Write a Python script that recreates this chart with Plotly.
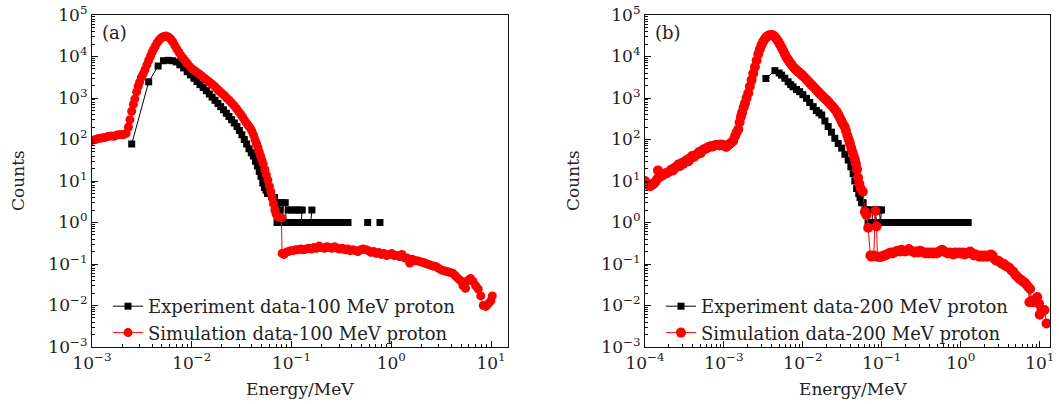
import plotly.graph_objects as go

# ---------------- Panel (a): 100 MeV proton ----------------
exp_a_E = [0.0025, 0.0037, 0.0046, 0.0052, 0.0058, 0.0064, 0.0070, 0.0076, 0.0083, 0.0090,
           0.0097, 0.0105, 0.0113, 0.0121, 0.0130, 0.0140, 0.0150, 0.0160, 0.0171, 0.0183,
           0.0195, 0.0208, 0.0222, 0.0236, 0.0251, 0.0267, 0.0284, 0.0300, 0.0318, 0.0336,
           0.0355, 0.0375, 0.0395, 0.0415, 0.0435, 0.0455, 0.0475, 0.0495, 0.0515, 0.0535,
           0.0555, 0.0575, 0.0600, 0.0625, 0.0650, 0.0675, 0.0700, 0.0716, 0.0735, 0.0755,
           0.0770, 0.0790, 0.0805, 0.0825, 0.0845, 0.0865, 0.0885, 0.0905, 0.0925, 0.0945,
           0.0965, 0.0985, 0.1005, 0.1025, 0.1045, 0.1065, 0.1090, 0.1110, 0.1130, 0.1160,
           0.1190, 0.1220, 0.1250, 0.1280, 0.1310, 0.1350, 0.1400, 0.1450, 0.1500, 0.1560,
           0.1600, 0.1640, 0.1680, 0.1740, 0.1810, 0.1880, 0.1950, 0.2030, 0.2110, 0.2200,
           0.2290, 0.2380, 0.2480, 0.2580, 0.2690, 0.2800, 0.2920, 0.3040, 0.3170, 0.3300,
           0.3440, 0.3580, 0.3680, 0.4500, 0.5800, 0.6800, 0.7700]
exp_a_C = [78, 2450, 5900, 7900, 8100, 7900, 7400, 6300, 5300, 4300,
           3600, 3000, 2500, 2100, 1800, 1500, 1250, 1050, 880, 740,
           620, 520, 430, 360, 300, 250, 205, 165, 130, 100,
           78, 60, 48, 40, 30, 23, 17, 13, 9, 7,
           6, 5, 5, 5, 4, 4, 3, 1, None, 3,
           2, None, 1, 3, None, 3, 1, None, 2, None,
           1, None, 2, None, 1, None, 2, None, 1, None,
           2, None, 1, 2, None, 1, None, 1, None, 1,
           2, None, 1, None, 1, None, 1, None, 1, None,
           1, None, 1, None, 1, None, 1, None, 1, None,
           1, None, 1, None, 1, None, 1]

sim_a_E = [0.00100, 0.00108, 0.00116, 0.00125, 0.00134, 0.00144, 0.00155, 0.00166, 0.00178, 0.00191,
           0.00205, 0.00220, 0.00232, 0.00240, 0.00250, 0.00260, 0.00269, 0.00280, 0.00290, 0.00300,
           0.00312, 0.00325, 0.00340, 0.00355, 0.00370, 0.00385, 0.00400, 0.00415, 0.00430, 0.00447,
           0.00465, 0.00485, 0.00505, 0.00527, 0.00550, 0.00575, 0.00600, 0.00625, 0.00650, 0.00680,
           0.00710, 0.00745, 0.00780, 0.00820, 0.00860, 0.00900, 0.00950, 0.01000, 0.01060, 0.01120,
           0.01190, 0.01260, 0.01340, 0.01420, 0.01510, 0.01600, 0.01700, 0.01800, 0.01900, 0.02000,
           0.02120, 0.02240, 0.02370, 0.02500, 0.02650, 0.02800, 0.02950, 0.03100, 0.03250, 0.03400,
           0.03550, 0.03700, 0.03850, 0.04000, 0.04150, 0.04300, 0.04450, 0.04600, 0.04750, 0.04900,
           0.05050, 0.05200, 0.05400, 0.05600, 0.05800, 0.06000, 0.06200, 0.06400, 0.06600, 0.06800,
           0.07000, 0.07300, 0.07900, 0.08050, 0.0840, 0.0880, 0.0930, 0.0980, 0.1040, 0.1100,
           0.1170, 0.1240, 0.1320, 0.1400, 0.1490, 0.1580, 0.1680, 0.1780, 0.1890, 0.2000,
           0.2130, 0.2260, 0.2400, 0.2550, 0.2700, 0.2870, 0.3050, 0.3240, 0.3440, 0.3650,
           0.3880, 0.4120, 0.4370, 0.4640, 0.4930, 0.5230, 0.5560, 0.5900, 0.6260, 0.6650,
           0.7060, 0.7500, 0.7960, 0.8450, 0.8970, 0.9530, 1.0100, 1.0700, 1.1400, 1.2100,
           1.2800, 1.3600, 1.4400, 1.5300, 1.6200, 1.7200, 1.8200, 1.9300, 2.0500, 2.1700,
           2.3000, 2.4400, 2.5900, 2.7500, 2.9100, 3.0900, 3.2700, 3.4700, 3.6800, 3.9000,
           4.1400, 4.3900, 4.6500, 4.9300, 5.2300, 5.5500, 5.8800, 6.2400, 6.6100, 7.0100,
           7.4400, 7.8900, 8.3600, 8.8700, 9.4000, 9.9700, 10.300]
sim_a_C = [95, 100, 105, 108, 112, 118, 122, 120, 128, 132,
           130, 140, 200, 300, 480, 700, 950, 1400, 1900, 2400,
           3100, 3800, 4800, 6300, 8000, 10000, 12500, 15000, 17500, 21000,
           24000, 27000, 29000, 30500, 31000, 30000, 28000, 25000, 22000, 18000,
           15000, 12500, 10500, 9000, 7800, 6800, 5800, 5100, 4600, 4200,
           3800, 3400, 3000, 2700, 2400, 2150, 1900, 1650, 1450, 1300,
           1150, 1000, 880, 770, 660, 560, 470, 400, 340, 285,
           245, 215, 190, 160, 130, 100, 80, 64, 50, 40,
           32, 26, 19, 14, 10.5, 7.5, 5.5, 3.9, 2.8, 2.0,
           1.6, 1.35, 1.3, 0.18, 0.17, 0.19, 0.20, 0.21, 0.21, 0.22,
           0.22, 0.23, 0.22, 0.23, 0.24, 0.23, 0.25, 0.24, 0.27, 0.25,
           0.24, 0.26, 0.25, 0.24, 0.26, 0.24, 0.23, 0.24, 0.22, 0.23,
           0.21, 0.22, 0.21, 0.20, 0.22, 0.23, 0.22, 0.21, 0.19, 0.20,
           0.18, 0.19, 0.17, 0.18, 0.16, 0.17, 0.18, 0.16, 0.16, 0.15,
           0.17, 0.14, 0.14, 0.105, 0.13, 0.12, 0.12, 0.115, 0.11, 0.105,
           0.10, 0.095, 0.09, 0.088, 0.082, 0.075, 0.07, 0.068, 0.065, 0.062,
           0.06, 0.052, 0.045, 0.040, 0.030, 0.026, 0.040, 0.045, 0.038, 0.030,
           0.025, 0.017, 0.010, 0.0095, 0.011, 0.013, 0.017]

# ---------------- Panel (b): 200 MeV proton ----------------
exp_b_E = [0.00340, 0.00442, 0.00500, 0.00537, 0.00590, 0.00650, 0.00700, 0.00750, 0.00830, 0.00910,
           0.01000, 0.01110, 0.01220, 0.01350, 0.01480, 0.01600, 0.01730, 0.01900, 0.02090, 0.02300,
           0.02540, 0.02800, 0.03100, 0.03400, 0.03750, 0.04050, 0.04330, 0.04550, 0.04790, 0.05100,
           0.05300, 0.05530, 0.05800, 0.06100, 0.06400, 0.06700, 0.0690, 0.0710, 0.0730, 0.0750,
           0.0770, 0.0790, 0.0810, 0.0830, 0.0850, 0.0870, 0.0890, 0.0910, 0.0930, 0.0960,
           0.0990, 0.1020, 0.1060, 0.1100, 0.1150, 0.1200, 0.1250, 0.1310, 0.1370, 0.1430,
           0.1500, 0.1570, 0.1650, 0.1730, 0.1810, 0.1900, 0.2000, 0.2100, 0.2200, 0.2310,
           0.2430, 0.2550, 0.2680, 0.2810, 0.2950, 0.3100, 0.3250, 0.3420, 0.3550, 0.3800,
           0.4050, 0.4280, 0.4510, 0.4760, 0.5020, 0.5300, 0.5590, 0.5900, 0.6220, 0.6560,
           0.6920, 0.7300, 0.7700, 0.8120, 0.8570, 0.9040, 0.9540, 1.0200, 1.1000, 1.2400]
exp_b_C = [2950, 4560, 4000, 3560, 3000, 2460, 2100, 1860, 1600, 1420,
           1200, 980, 780, 620, 500, 440, 390, 280, 205, 150,
           107, 80, 62, 44, 32, 22, 15, 10, 6.6, 5,
           4, 3, 3, 2, 2, 1, None, 2, None, 1,
           2, None, 1, 2, 1, None, 1, None, 2, 1,
           2, None, 1, None, 1, None, 1, None, 1, None,
           1, None, 1, None, 1, None, 1, None, 1, None,
           1, None, 1, None, 1, None, 1, None, 1, None,
           1, None, 1, None, 1, None, 1, None, 1, None,
           1, None, 1, None, 1, None, 1, 1, None, 1]

sim_b_E = [1.00e-4, 1.05e-4, 1.10e-4, 1.16e-4, 1.22e-4, 1.28e-4, 1.35e-4, 1.42e-4, 1.46e-4, 1.52e-4,
           1.60e-4, 1.68e-4, 1.77e-4, 1.86e-4, 1.95e-4, 2.05e-4, 2.16e-4, 2.27e-4, 2.39e-4, 2.51e-4,
           2.64e-4, 2.78e-4, 2.92e-4, 3.07e-4, 3.23e-4, 3.40e-4, 3.57e-4, 3.76e-4, 3.95e-4, 4.15e-4,
           4.37e-4, 4.59e-4, 4.83e-4, 5.08e-4, 5.34e-4, 5.61e-4, 5.90e-4, 6.20e-4, 6.52e-4, 6.86e-4,
           7.21e-4, 7.58e-4, 7.97e-4, 8.38e-4, 8.81e-4, 9.26e-4, 9.74e-4, 1.02e-3, 1.07e-3, 1.12e-3,
           1.18e-3, 1.24e-3, 1.31e-3, 1.38e-3, 1.45e-3, 1.52e-3, 1.58e-3, 1.64e-3, 1.70e-3, 1.78e-3,
           1.85e-3, 1.93e-3, 2.03e-3, 2.13e-3, 2.24e-3, 2.35e-3, 2.47e-3, 2.59e-3, 2.72e-3, 2.85e-3,
           2.99e-3, 3.14e-3, 3.30e-3, 3.46e-3, 3.63e-3, 3.82e-3, 4.02e-3, 4.22e-3, 4.43e-3, 4.65e-3,
           4.88e-3, 5.12e-3, 5.37e-3, 5.62e-3, 5.90e-3, 6.20e-3, 6.52e-3, 6.84e-3, 7.20e-3, 7.60e-3,
           8.00e-3, 8.40e-3, 8.80e-3, 9.16e-3, 9.70e-3, 0.0102, 0.0108, 0.0114, 0.0121, 0.0128,
           0.0135, 0.0143, 0.0151, 0.0160, 0.0169, 0.0179, 0.0189, 0.0200, 0.0211, 0.0223,
           0.0236, 0.0250, 0.0267, 0.0280, 0.0293, 0.0306, 0.0320, 0.0339, 0.0352, 0.0366,
           0.0380, 0.0394, 0.0410, 0.0425, 0.0440, 0.0455, 0.0470, 0.0485, 0.0500, 0.0520,
           0.0540, 0.0574, 0.0610, 0.0640, 0.0671, 0.0715, 0.0741, 0.0790, 0.0830, 0.0857,
           0.0880, 0.0920, 0.0960, 0.1000, 0.1050, 0.1100, 0.1160, 0.1220, 0.1290, 0.1360,
           0.1430, 0.1510, 0.1590, 0.1680, 0.1770, 0.1870, 0.1970, 0.2080, 0.2200, 0.2320,
           0.2450, 0.2590, 0.2730, 0.2880, 0.3040, 0.3210, 0.3390, 0.3580, 0.3780, 0.3990,
           0.4210, 0.4440, 0.4690, 0.4950, 0.5230, 0.5520, 0.5820, 0.6150, 0.6490, 0.6850,
           0.7230, 0.7630, 0.8060, 0.8510, 0.8980, 0.9480, 1.0000, 1.0600, 1.1200, 1.1800,
           1.2500, 1.3200, 1.3900, 1.4700, 1.5500, 1.6400, 1.7300, 1.8300, 1.9300, 2.0400,
           2.1500, 2.2700, 2.4000, 2.5300, 2.6800, 2.8300, 2.9900, 3.1600, 3.3300, 3.5200,
           3.7200, 3.9300, 4.1500, 4.3800, 4.6300, 4.8900, 5.1600, 5.4500, 5.7600, 6.0800,
           6.4200, 6.7800, 7.1600, 7.4000, 7.5600, 7.9000, 8.3500, 8.8200, 9.3100, 9.8300,
           10.000, 10.500, 11.000, 11.500, 12.200]
sim_b_C = [10, 9, 8, 7.5, 8, 8.5, 9.5, 11, 18, 13,
           13, 14, 15, 15.5, 16, 17, 19, 18, 21, 22,
           25, 23, 27, 26, 30, 32, 30, 36, 40, 38,
           42, 44, 50, 47, 55, 58, 60, 64, 66, 70,
           68, 72, 74, 75, 72, 76, 74, 70, 66, 72,
           78, 85, 92, 120, 150, 175, 260, 355, 450, 600,
           750, 1000, 1300, 1900, 2700, 3900, 5600, 8000, 11500, 15000,
           19000, 23000, 26500, 29500, 31500, 32500, 33000, 32000, 29500, 26000,
           23000, 19500, 16500, 14000, 11500, 9500, 8200, 7200, 6300, 5500,
           5000, 4600, 4200, 4000, 3600, 3300, 2950, 2650, 2350, 2100,
           1900, 1700, 1500, 1350, 1200, 1080, 970, 890, 800, 710,
           630, 550, 470, 400, 340, 285, 240, 200, 160, 125,
           100, 81, 62, 50, 40, 33, 26, 19, 12, 8.5,
           6.5, 5.5, 1.8, 1.5, 0.75, 0.16, 0.15, 0.16, 1.9, 0.8,
           0.15, 0.15, 0.15, 0.15, 0.16, 0.16, 0.17, 0.18, 0.19, 0.18,
           0.19, 0.20, 0.21, 0.20, 0.22, 0.21, 0.20, 0.21, 0.23, 0.21,
           0.20, 0.19, 0.20, 0.19, 0.21, 0.20, 0.19, 0.18, 0.19, 0.18,
           0.19, 0.18, 0.19, 0.18, 0.19, 0.21, 0.22, 0.20, 0.19, 0.18,
           0.19, 0.18, 0.17, 0.19, 0.18, 0.19, 0.18, 0.19, 0.17, 0.18,
           0.19, 0.20, 0.18, 0.16, 0.17, 0.16, 0.15, 0.16, 0.15, 0.16,
           0.15, 0.16, 0.17, 0.16, 0.13, 0.12, 0.12, 0.11, 0.10, 0.10,
           0.09, 0.085, 0.08, 0.07, 0.065, 0.055, 0.05, 0.045, 0.042, 0.038,
           0.036, 0.032, 0.028, 0.012, 0.025, 0.013, 0.012, 0.014, 0.016, 0.011,
           0.006, 0.008, 0.0075, 0.0078, 0.0037]

legend_a = ["Experiment data-100 MeV proton", "Simulation data-100 MeV proton"]
legend_b = ["Experiment data-200 MeV proton", "Simulation data-200 MeV proton"]
panel_labels = ["(a)", "(b)"]
x_title = "Energy/MeV"
y_title = "Counts"
x_exps_a = [-3, -2, -1, 0, 1]
x_exps_b = [-4, -3, -2, -1, 0, 1]
y_exps = [-3, -2, -1, 0, 1, 2, 3, 4, 5]


def pow_label(p):
    s = str(p).replace("-", "\u2212")
    return "10<sup>" + s + "</sup>"


W, H = 1059, 404
FONT = "DejaVu Serif"
BLACK = "#000000"
RED = "#ff0000"

fig = go.Figure()


def add_pair(xa, ya, expE, expC, simE, simC, names, legend, sq, ci):
    fig.add_trace(go.Scatter(x=expE, y=expC, mode="lines+markers", name=names[0],
                             line=dict(color=BLACK, width=1),
                             marker=dict(symbol="square", size=sq, color=BLACK),
                             xaxis=xa, yaxis=ya, legend=legend, connectgaps=False))
    fig.add_trace(go.Scatter(x=simE, y=simC, mode="lines+markers", name=names[1],
                             line=dict(color=RED, width=1),
                             marker=dict(symbol="circle", size=ci, color=RED),
                             xaxis=xa, yaxis=ya, legend=legend, connectgaps=False))


add_pair("x", "y", exp_a_E, exp_a_C, sim_a_E, sim_a_C, legend_a, "legend", 7, 9)
add_pair("x2", "y2", exp_b_E, exp_b_C, sim_b_E, sim_b_C, legend_b, "legend2", 7, 10)


def px2fx(px):
    return px / W


def py2fy(py):
    return 1 - py / H


ydom = [py2fy(347), py2fy(15)]


def log_axis(exps, rng, domain, anchor):
    return dict(type="log", range=rng, domain=domain, anchor=anchor, automargin=False,
                showline=True, linecolor="#111", linewidth=1.2, mirror=True,
                ticks="inside", ticklen=6, tickwidth=1, tickcolor="#111",
                tickmode="array", tickvals=[10.0 ** p for p in exps],
                ticktext=[pow_label(p) for p in exps],
                showgrid=False, zeroline=False,
                tickfont=dict(family=FONT, size=17, color="#222"),
                minor=dict(ticks="inside", ticklen=3, tickcolor="#111",
                           tickmode="linear", dtick="D1", showgrid=False))


fig.update_layout(
    template="none",
    width=W, height=H, margin=dict(l=0, r=0, t=0, b=0, pad=0, autoexpand=False),
    paper_bgcolor="white", plot_bgcolor="white",
    font=dict(family=FONT, size=17, color="#222"),
    xaxis=log_axis(x_exps_a, [-3, 1.17], [px2fx(92), px2fx(508)], "y"),
    yaxis=log_axis(y_exps, [-3, 5], ydom, "x"),
    xaxis2=log_axis(x_exps_b, [-4, 1.13], [px2fx(645), px2fx(1050)], "y2"),
    yaxis2=log_axis(y_exps, [-3, 5], ydom, "x2"),
    legend=dict(x=px2fx(108), y=py2fy(288), xanchor="left", yanchor="top",
                bgcolor="rgba(0,0,0,0)", font=dict(family=FONT, size=18, color="#222"),
                itemwidth=30, tracegroupgap=0, borderwidth=0),
    legend2=dict(x=px2fx(661), y=py2fy(288), xanchor="left", yanchor="top",
                 bgcolor="rgba(0,0,0,0)", font=dict(family=FONT, size=18, color="#222"),
                 itemwidth=30, tracegroupgap=0, borderwidth=0),
    showlegend=True,
)

ann_font = dict(family=FONT, size=17, color="#222")
lab_font = dict(family=FONT, size=18, color="#222")


def add_text(px, py, text, font, angle=0):
    fig.add_annotation(x=px2fx(px), y=py2fy(py), xref="paper", yref="paper", text=text,
                       showarrow=False, font=font, textangle=angle,
                       xanchor="center", yanchor="middle")


add_text(114, 33, panel_labels[0], lab_font)
add_text(668, 33, panel_labels[1], lab_font)
add_text(300, 389, x_title, ann_font)
add_text(853, 389, x_title, ann_font)
add_text(18, 181, y_title, ann_font, -90)
add_text(573, 181, y_title, ann_font, -90)

fig.write_html("out.html", config={"displayModeBar": False},
               post_script="document.body.style.margin='0';document.body.style.overflow='hidden';")
